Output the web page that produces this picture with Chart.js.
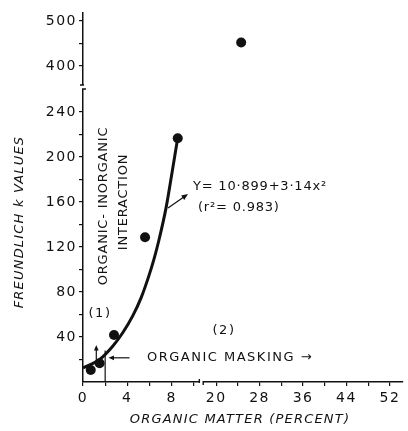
<!DOCTYPE html>
<html>
<head>
<meta charset="utf-8">
<script src="https://cdn.jsdelivr.net/npm/chart.js@4.4.1/dist/chart.umd.min.js"></script>
<style>
  html, body { margin: 0; padding: 0; background: #fff; }
  #wrap { width: 408px; height: 431px; }
</style>
</head>
<body>
<div id="wrap"><canvas id="chart" width="408" height="431"></canvas></div>
<script>
// measured samples (organic matter %, Freundlich k)
const sampleOM = [0.7, 1.5, 2.8, 5.6, 8.55, 24.6];
const sampleK = [10.7, 16.6, 41.8, 128.6, 216.6, 452];

// fitted curve
const fitOM = [0, 1.5, 2.7, 3.6, 4.5, 5.25, 5.9, 6.4, 6.85, 7.5, 8.0, 8.55];
const fitK = [12.5, 20, 32, 44, 59, 75, 93, 109, 126, 155, 184, 217];

// axis ticks
const xTicks = [0, 2, 4, 6, 8, 10, 20, 24, 28, 32, 36, 40, 44, 48, 52];
const xTickLabels = ['0', '', '4', '', '8', '', '20', '', '28', '', '36', '', '44', '', '52'];
const yTicks = [20, 40, 60, 80, 100, 120, 140, 160, 180, 200, 220, 240, 400, 450, 500];
const yTickLabels = ['', '40', '', '80', '', '120', '', '160', '', '200', '', '240', '400', '', '500'];

// broken axes: lower part is linear, upper part is compressed
const xmap = v => (v <= 12 ? v : 12.02 + (v - 20) * 0.49);
const ymap = v => (v <= 300 ? v : 280.9 + (v - 400) * 0.4);

const INK = '#111';
const FONT = "'DejaVu Sans', sans-serif";

function arrow(ctx, x1, y1, x2, y2, head) {
  const a = Math.atan2(y2 - y1, x2 - x1);
  ctx.beginPath();
  ctx.moveTo(x1, y1);
  ctx.lineTo(x2 - Math.cos(a) * head * 0.6, y2 - Math.sin(a) * head * 0.6);
  ctx.stroke();
  ctx.beginPath();
  ctx.moveTo(x2, y2);
  ctx.lineTo(x2 - head * Math.cos(a - 0.4), y2 - head * Math.sin(a - 0.4));
  ctx.lineTo(x2 - head * Math.cos(a + 0.4), y2 - head * Math.sin(a + 0.4));
  ctx.closePath();
  ctx.fill();
}

const spacingPlugin = {
  id: 'spacing',
  beforeDraw(chart) {
    chart.ctx.letterSpacing = '1.5px';
  }
};

const notesPlugin = {
  id: 'notes',
  afterDraw(chart) {
    const ctx = chart.ctx;
    const xs = chart.scales.x;
    const ys = chart.scales.y;
    const px = v => xs.getPixelForValue(xmap(v));
    const py = v => ys.getPixelForValue(ymap(v));
    const area = chart.chartArea;

    ctx.save();
    ctx.strokeStyle = INK;
    ctx.fillStyle = INK;
    ctx.lineWidth = 1.4;

    // axis breaks
    const yb1 = ys.getPixelForValue(260.5);
    const yb2 = ys.getPixelForValue(264);
    ctx.clearRect(area.left - 3, yb2, 6, yb1 - yb2);
    ctx.beginPath();
    ctx.moveTo(area.left - 1, yb1); ctx.lineTo(area.left + 3, yb1);
    ctx.moveTo(area.left - 3, yb2); ctx.lineTo(area.left + 1, yb2);
    ctx.stroke();

    const xb1 = xs.getPixelForValue(10.5);
    const xb2 = xs.getPixelForValue(10.85);
    ctx.clearRect(xb1, area.bottom - 3, xb2 - xb1, 6);
    ctx.beginPath();
    ctx.moveTo(xb1, area.bottom - 3); ctx.lineTo(xb1, area.bottom + 1);
    ctx.moveTo(xb2, area.bottom - 1); ctx.lineTo(xb2, area.bottom + 3);
    ctx.stroke();

    // region boundary at 2 % organic matter
    ctx.lineWidth = 1.2;
    ctx.beginPath();
    ctx.moveTo(px(2), py(0));
    ctx.lineTo(px(2), py(28));
    ctx.stroke();
    arrow(ctx, px(1.2), py(15), px(1.2), py(33), 6);
    arrow(ctx, px(4.2), py(21.5), px(2.3), py(21.5), 6);

    // equation pointer
    arrow(ctx, 168, 208, 188, 194, 7);

    ctx.textBaseline = 'middle';
    ctx.letterSpacing = '1.5px';
    ctx.font = '13px ' + FONT;
    ctx.textAlign = 'left';
    ctx.fillText('ORGANIC MASKING \u2192', 147, py(21.5));
    ctx.letterSpacing = '0.8px';
    ctx.fillText('Y= 10\u00b7899+3\u00b714x\u00b2', 193, 187);
    ctx.fillText('(r\u00b2= 0.983)', 198, 208);
    ctx.letterSpacing = '1.5px';
    ctx.textAlign = 'center';
    ctx.fillText('(1)', 100, 314);
    ctx.fillText('(2)', 224, 331);

    // rotated region label
    ctx.letterSpacing = '0.8px';
    ctx.save();
    ctx.translate(104, 206);
    ctx.rotate(-Math.PI / 2);
    ctx.fillText('ORGANIC- INORGANIC', 0, 0);
    ctx.restore();
    ctx.save();
    ctx.translate(124, 202);
    ctx.rotate(-Math.PI / 2);
    ctx.fillText('INTERACTION', 0, 0);
    ctx.restore();

    // axis titles
    ctx.letterSpacing = '1.2px';
    ctx.font = 'italic 13px ' + FONT;
    ctx.fillText('ORGANIC MATTER (PERCENT)', 240, 420);
    ctx.save();
    ctx.translate(20, 222);
    ctx.rotate(-Math.PI / 2);
    ctx.fillText('FREUNDLICH k VALUES', 0, 0);
    ctx.restore();

    ctx.restore();
  }
};

new Chart(document.getElementById('chart'), {
  type: 'scatter',
  data: {
    datasets: [
      {
        label: 'fit',
        data: fitOM.map((v, i) => ({ x: xmap(v), y: ymap(fitK[i]) })),
        showLine: true,
        borderColor: INK,
        borderWidth: 3,
        pointRadius: 0,
        cubicInterpolationMode: 'monotone',
        fill: false
      },
      {
        label: 'samples',
        data: sampleOM.map((v, i) => ({ x: xmap(v), y: ymap(sampleK[i]) })),
        pointRadius: 5,
        pointBackgroundColor: INK,
        pointBorderColor: INK,
        pointBorderWidth: 0
      }
    ]
  },
  options: {
    responsive: false,
    devicePixelRatio: 1,
    animation: false,
    layout: { padding: { left: 0, right: 3, top: 13, bottom: 0 } },
    plugins: {
      legend: { display: false },
      tooltip: { enabled: false }
    },
    scales: {
      x: {
        type: 'linear',
        min: 0,
        max: 28.88,
        afterFit: s => { s.height = 49; },
        afterBuildTicks: s => { s.ticks = xTicks.map(v => ({ value: xmap(v) })); },
        border: { display: true, color: INK, width: 1.5 },
        grid: { drawOnChartArea: false, color: INK, lineWidth: 1.2, tickLength: 4 },
        ticks: {
          autoSkip: false,
          maxRotation: 0,
          padding: 4,
          color: INK,
          font: { family: FONT, size: 14 },
          callback: (val, i) => xTickLabels[i]
        }
      },
      y: {
        type: 'linear',
        min: 0,
        max: 328,
        afterFit: s => { s.width = 83; },
        afterBuildTicks: s => { s.ticks = yTicks.map(v => ({ value: ymap(v) })); },
        border: { display: true, color: INK, width: 1.5 },
        grid: { drawOnChartArea: false, color: INK, lineWidth: 1.2, tickLength: 4 },
        ticks: {
          autoSkip: false,
          padding: 2,
          color: INK,
          font: { family: FONT, size: 14 },
          callback: (val, i) => yTickLabels[i]
        }
      }
    }
  },
  plugins: [spacingPlugin, notesPlugin]
});
</script>
</body>
</html>
